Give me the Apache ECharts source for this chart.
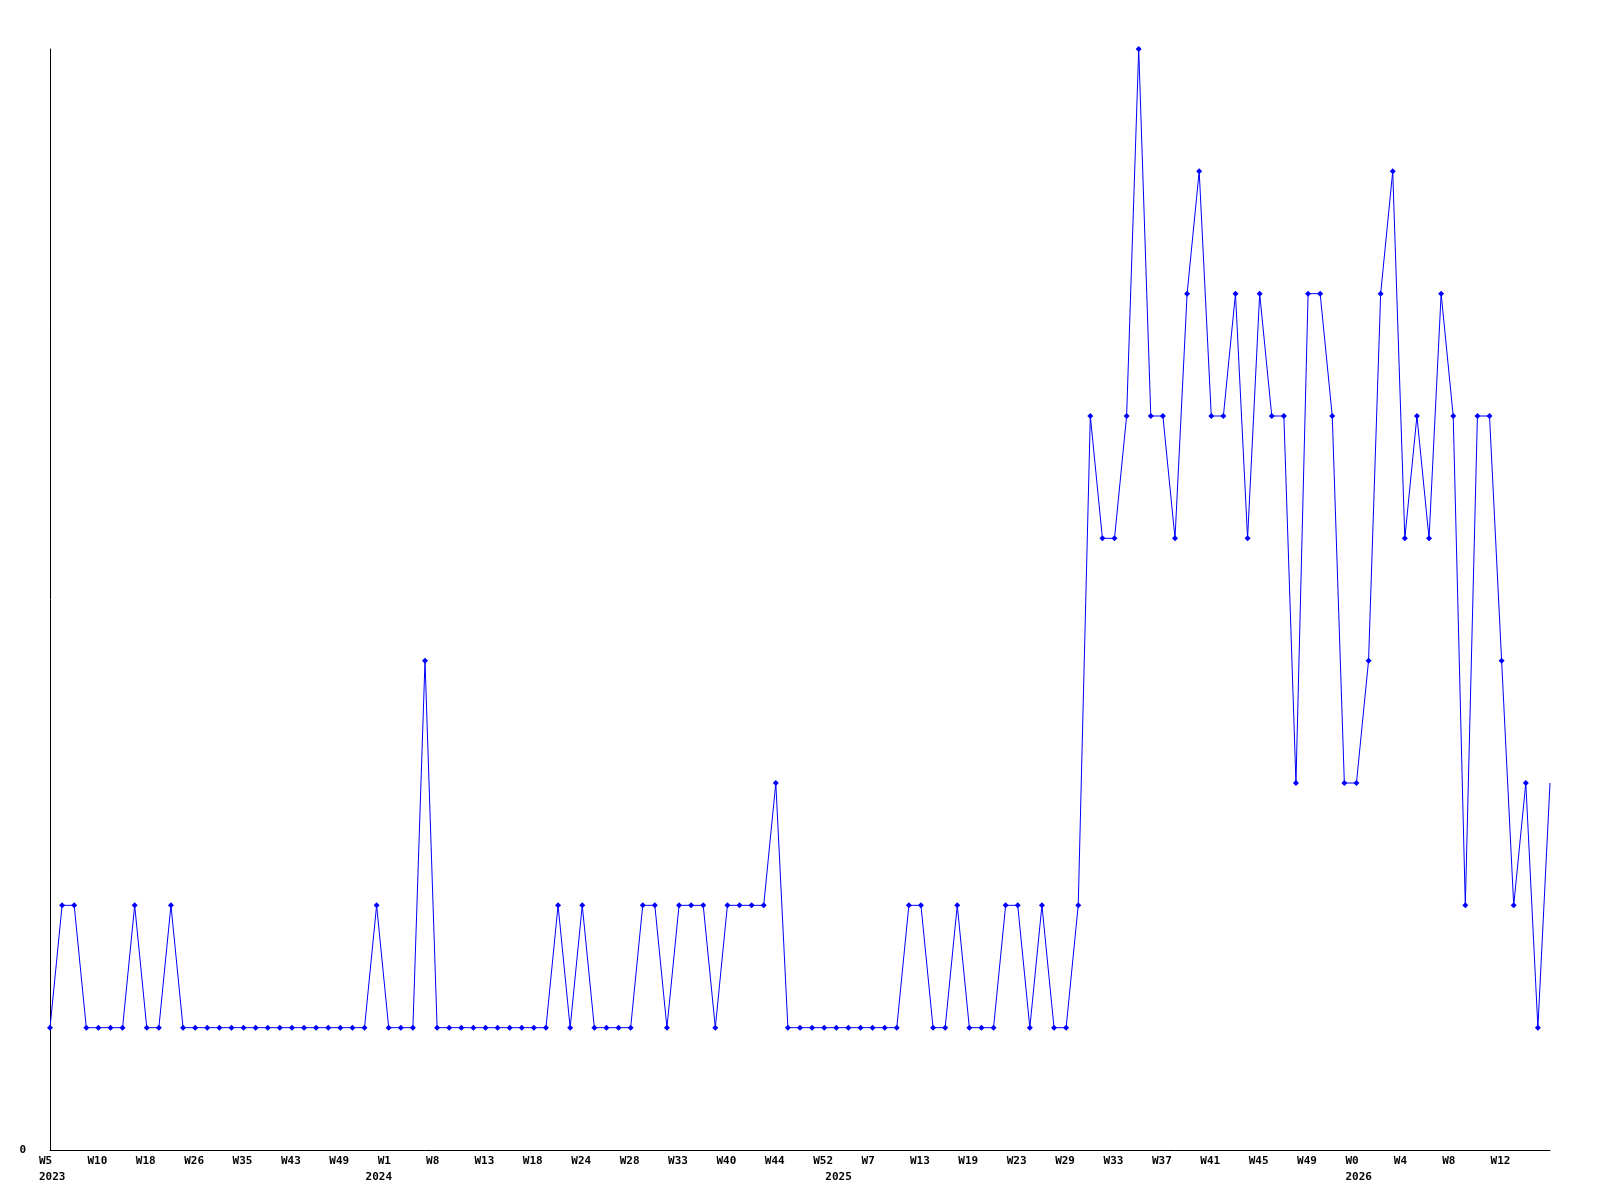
<!DOCTYPE html>
<html>
<head>
<meta charset="utf-8">
<script src="https://cdn.jsdelivr.net/npm/echarts@6/dist/echarts.min.js"></script>
<style>
  html, body { margin: 0; padding: 0; background: #fff; }
  #chart { width: 1600px; height: 1200px; }
</style>
</head>
<body>
<div id="chart"></div>
<script>
// weekly counts, one per point
const counts = [
  1, 2, 2, 1, 1, 1, 1, 2, 1, 1, 2, 1, 1, 1, 1, 1, 1, 1, 1, 1,
  1, 1, 1, 1, 1, 1, 1, 2, 1, 1, 1, 4, 1, 1, 1, 1, 1, 1, 1, 1,
  1, 1, 2, 1, 2, 1, 1, 1, 1, 2, 2, 1, 2, 2, 2, 1, 2, 2, 2, 2,
  3, 1, 1, 1, 1, 1, 1, 1, 1, 1, 1, 2, 2, 1, 1, 2, 1, 1, 1, 2,
  2, 1, 2, 1, 1, 2, 6, 5, 5, 6, 9, 6, 6, 5, 7, 8, 6, 6, 7, 5,
  7, 6, 6, 3, 7, 7, 6, 3, 3, 4, 7, 8, 5, 6, 5, 7, 6, 2, 6, 6,
  4, 2, 3, 1, 3
];

// a week label is shown on every 4th point
const weekLabels = [
  "W5", "W10", "W18", "W26", "W35", "W43", "W49", "W1", "W8", "W13",
  "W18", "W24", "W28", "W33", "W40", "W44", "W52", "W7", "W13", "W19",
  "W23", "W29", "W33", "W37", "W41", "W45", "W49", "W0", "W4", "W8",
  "W12"
];
const yearPoints = [0, 27, 65, 108];
const yearNames = ["2023", "2024", "2025", "2026"];

const categories = counts.map((c, i) => "p" + i);

function labelFor(i) {
  let top = i % 4 === 0 && weekLabels[i / 4] ? weekLabels[i / 4] : "";
  let y = yearPoints.indexOf(i);
  let bottom = y >= 0 ? yearNames[y] : "";
  return top + "\n" + bottom;
}

const chart = echarts.init(document.getElementById("chart"));
const font = "'DejaVu Sans Mono', monospace";

chart.setOption({
  backgroundColor: "#ffffff",
  animation: false,
  grid: { left: 50, right: 50, top: 49, bottom: 50 },
  xAxis: {
    type: "category",
    boundaryGap: false,
    data: categories,
    axisLine: { show: true, lineStyle: { color: "#000", width: 1 } },
    axisTick: { show: false },
    splitLine: { show: false },
    axisLabel: {
      interval: (i) => i % 4 === 0 || yearPoints.indexOf(i) >= 0,
      formatter: (v, i) => labelFor(i),
      align: "left",
      padding: [0, 0, 0, -11],
      margin: 3,
      color: "#000",
      fontFamily: font,
      fontWeight: "bold",
      fontSize: 11,
      lineHeight: 16
    }
  },
  yAxis: {
    type: "value",
    min: 0,
    max: 9,
    interval: 9,
    axisLine: { show: true, lineStyle: { color: "#000", width: 1 } },
    axisTick: { show: false },
    splitLine: { show: false },
    axisLabel: {
      formatter: (v) => (v === 0 ? "0" : ""),
      margin: 24,
      color: "#000",
      fontFamily: font,
      fontWeight: "bold",
      fontSize: 11
    }
  },
  series: [
    {
      type: "line",
      data: counts.map((v, i) =>
        i === counts.length - 1 ? { value: v, symbol: "none" } : v
      ),
      symbol: "diamond",
      symbolSize: 6,
      showAllSymbol: true,
      lineStyle: { color: "#0000ff", width: 1 },
      itemStyle: { color: "#0000ff" },
      clip: false
    }
  ]
});
</script>
</body>
</html>
